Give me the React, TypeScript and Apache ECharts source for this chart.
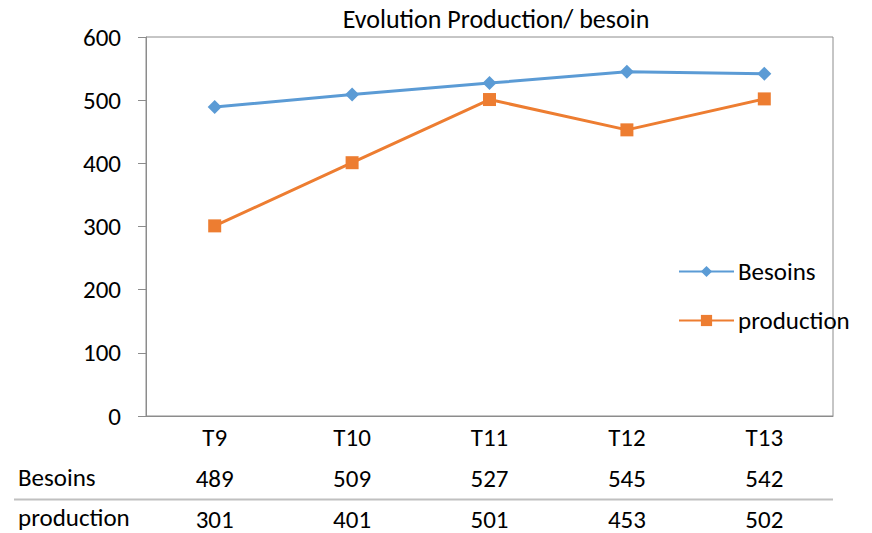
import React, { useEffect, useRef } from "react";
import * as echarts from "echarts";

const categories = ["T9", "T10", "T11", "T12", "T13"];
const besoins = [489, 509, 527, 545, 542];
const production = [301, 401, 501, 453, 502];
const seriesNames = ["Besoins", "production"];
const titleText = "Evolution Production/ besoin";

const FONT = "Carlito, 'Liberation Sans Narrow', 'Open Sans', sans-serif";
const FS = 25;

const tableAxis = (values: number[], margin: number) => ({
  type: "category",
  data: categories,
  position: "bottom",
  boundaryGap: true,
  axisLine: { show: false },
  axisTick: { show: false },
  splitLine: { show: false },
  axisLabel: {
    margin,
    interval: 0,
    lineHeight: 24,
    fontFamily: FONT,
    fontSize: FS,
    color: "#000",
    formatter: (_v: string, i: number) => String(values[i]),
  },
});

export default function App() {
  const ref = useRef<HTMLDivElement>(null);
  useEffect(() => {
    if (!ref.current) return;
    const chart = echarts.init(ref.current, undefined, { renderer: "svg" });
    chart.setOption({
      animation: false,
      backgroundColor: "#ffffff",
      textStyle: { fontFamily: FONT },
      title: {
        text: titleText,
        left: 491,
        top: 1,
        textAlign: "center",
        textStyle: { fontFamily: FONT, fontSize: 26, fontWeight: "normal", color: "#000" },
      },
      legend: {
        orient: "vertical",
        left: 673,
        top: 254,
        itemGap: 24,
        itemWidth: 55,
        itemHeight: 14,
        data: seriesNames,
        textStyle: { fontFamily: FONT, fontSize: FS, color: "#000", padding: [0, 0, 0, -1] },
      },
      grid: {
        left: 146,
        right: 39,
        top: 37,
        bottom: 117,
        show: true,
        borderColor: "#8c8c8c",
        borderWidth: 1,
      },
      xAxis: [
        {
          type: "category",
          data: categories,
          position: "bottom",
          boundaryGap: true,
          axisLine: { show: true, lineStyle: { color: "#8c8c8c" } },
          axisTick: { show: false },
          axisLabel: {
            margin: 9,
            interval: 0,
            lineHeight: 24,
            fontFamily: FONT,
            fontSize: FS,
            color: "#000",
          },
        },
        tableAxis(besoins, 50),
        tableAxis(production, 91),
      ],
      yAxis: {
        type: "value",
        min: 0,
        max: 600,
        interval: 100,
        splitLine: { show: false },
        axisLine: { show: true, lineStyle: { color: "#8c8c8c" } },
        axisTick: { show: true, length: 8, lineStyle: { color: "#8c8c8c" } },
        axisLabel: { fontFamily: FONT, fontSize: FS, color: "#000", margin: 25 },
      },
      graphic: [
        {
          type: "text",
          left: 18,
          top: 465,
          style: { text: seriesNames[0], fontFamily: FONT, fontSize: FS, fill: "#000" },
        },
        {
          type: "text",
          left: 18,
          top: 505,
          style: { text: seriesNames[1], fontFamily: FONT, fontSize: FS, fill: "#000" },
        },
        {
          type: "line",
          shape: { x1: 14, y1: 499.5, x2: 833, y2: 499.5 },
          style: { stroke: "#c0c0c0", lineWidth: 2 },
        },
      ],
      series: [
        {
          name: seriesNames[0],
          type: "line",
          xAxisIndex: 0,
          data: besoins,
          symbol: "diamond",
          symbolSize: 14,
          lineStyle: { color: "#5b9bd5", width: 3 },
          itemStyle: { color: "#5b9bd5" },
        },
        {
          name: seriesNames[1],
          type: "line",
          xAxisIndex: 0,
          data: production,
          symbol: "rect",
          symbolSize: 13,
          lineStyle: { color: "#ed7d31", width: 3 },
          itemStyle: { color: "#ed7d31" },
        },
      ],
    });
    return () => chart.dispose();
  }, []);
  return (
    <div
      ref={ref}
      style={{ position: "absolute", left: 0, top: 0, width: 872, height: 533 }}
    />
  );
}
